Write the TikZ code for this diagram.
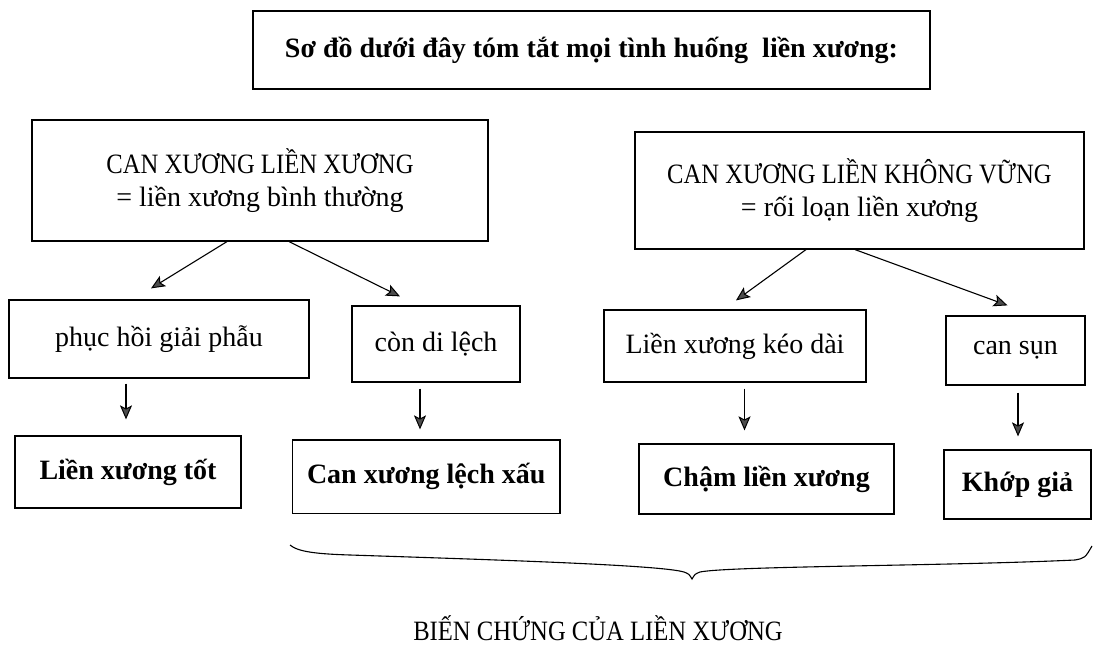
\documentclass[tikz,border=0pt]{standalone}
\usepackage{fontspec}
\setmainfont{Liberation Serif}
\newfontfamily\narrowfont[FakeStretch=0.88]{Liberation Serif}
\usetikzlibrary{arrows.meta,calc}
\begin{document}
\begin{tikzpicture}[x=1pt,y=-1pt,
  box/.style={draw, line width=1.2pt, inner sep=0pt, align=center,
    font=\fontsize{28}{33}\selectfont},
  boldbox/.style={box, font=\fontsize{28}{33}\selectfont\bfseries},
  arr/.style={line width=1.1pt, -{Stealth[length=14pt,width=12pt,inset=3pt,fill=black!70,line width=1pt]}},
]
\useasboundingbox (0,0) rectangle (1093,650);

\node[boldbox, minimum width=677pt, minimum height=78pt] (title) at (591.5,50)
  {Sơ đồ dưới đây tóm tắt mọi tình huống\ \ liền xương:};

\node[box, minimum width=456pt, minimum height=121pt] (A) at (260,180.5)
  {{\narrowfont CAN XƯƠNG LIỀN XƯƠNG}\\= liền xương bình\ thường};
\node[box, minimum width=449pt, minimum height=117pt] (B) at (859.5,190.5)
  {{\narrowfont CAN XƯƠNG LIỀN KHÔNG VỮNG}\\= rối loạn liền xương};

\node[box, minimum width=300pt, minimum height=78pt] (p1) at (159,339) {phục hồi giải phẫu};
\node[box, minimum width=168pt, minimum height=76pt] (p2) at (436,344) {còn di lệch};
\node[box, minimum width=262pt, minimum height=72pt] (p3) at (735,346) {Liền xương kéo dài};
\node[box, minimum width=139pt, minimum height=69pt] (p4) at (1015.5,350.5) {can sụn};

\node[boldbox, minimum width=226pt, minimum height=72pt] (r1) at (128,472) {Liền xương tốt};
\node[boldbox, minimum width=267.5pt, minimum height=73.5pt] (r2) at (426.25,476.75) {Can xương lệch xấu};
\node[boldbox, minimum width=255pt, minimum height=70pt] (r3) at (766.5,479) {Chậm liền xương};
\node[boldbox, minimum width=147pt, minimum height=69pt] (r4) at (1017.5,484.5) {Khớp giả};

\draw[arr] ($(A.south)+(-33,0)$) -- ($(p1.north)+(-8,-11)$);
\draw[arr] ($(A.south)+(29,0)$) -- ($(p2.north)+(-36,-9)$);
\draw[arr] ($(B.south)+(-53.5,0)$) -- ($(p3.north)+(1,-9)$);
\draw[arr] ($(B.south)+(-4.5,0)$) -- ($(p4.north)+(-8,-10)$);

\draw[arr] ($(p1.south)+(-33,5)$) -- ($(r1.north)+(-2,-16)$);
\draw[arr] ($(p2.south)+(-16,6)$) -- ($(r2.north)+(-6.25,-10)$);
\draw[arr] ($(p3.south)+(9.5,6)$) -- ($(r3.north)+(-22,-13)$);
\draw[arr] ($(p4.south)+(2.5,7)$) -- ($(r4.north)+(0.5,-13)$);

\draw[line width=1.1pt] (290,545) .. controls (298,552) and (318,554) .. (350,555)
  .. controls (500,560) and (660,565) .. (684,572)
  .. controls (689,574) .. (692,579)
  .. controls (695,574) .. (700,572)
  .. controls (730,566) and (950,566) .. (1075,560)
  .. controls (1085,558) .. (1092,546);

\node[font=\fontsize{28}{33}\selectfont\narrowfont] (bc) at (598,628)
  {BIẾN CHỨNG CỦA LIỀN XƯƠNG};
\end{tikzpicture}
\end{document}
